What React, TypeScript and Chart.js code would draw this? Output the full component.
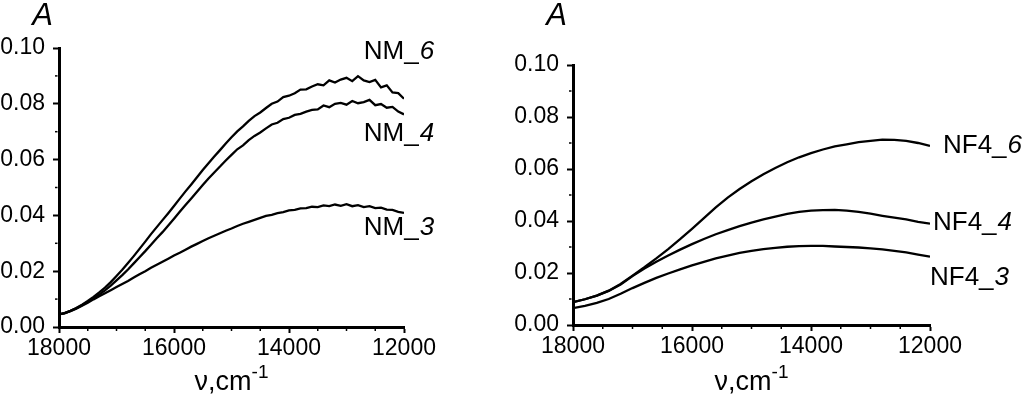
import React, { useEffect, useRef } from "react";
import { Chart, registerables } from "chart.js";

Chart.register(...registerables);
Chart.defaults.font.family = '"Liberation Sans", Arial, sans-serif';

// ---------- Left panel (NM) ----------
const nuLeft = [
  18000, 17900, 17800, 17700, 17600, 17500, 17400, 17300, 17200, 17100,
  17000, 16900, 16800, 16700, 16600, 16500, 16400, 16300, 16200, 16100,
  16000, 15900, 15800, 15700, 15600, 15500, 15400, 15300, 15200, 15100,
  15000, 14900, 14800, 14700, 14600, 14500, 14400, 14300, 14200, 14100,
  14000, 13900, 13800, 13700, 13600, 13500, 13400, 13300, 13200, 13100,
  13000, 12900, 12800, 12700, 12600, 12500, 12400, 12300, 12200, 12100,
  12000,
];
const nm6 = [
  0.0045, 0.0050, 0.0058, 0.0068, 0.0080, 0.0093, 0.0108, 0.0124, 0.0141, 0.0161,
  0.0183, 0.0205, 0.0229, 0.0254, 0.0280, 0.0306, 0.0333, 0.0358, 0.0383, 0.0408,
  0.0434, 0.0460, 0.0486, 0.0511, 0.0537, 0.0563, 0.0587, 0.0611, 0.0634, 0.0658,
  0.0680, 0.0701, 0.0719, 0.0739, 0.0756, 0.0769, 0.0785, 0.0800, 0.0808, 0.0824,
  0.0829, 0.0838, 0.0851, 0.0852, 0.0862, 0.0870, 0.0866, 0.0884, 0.0876, 0.0887,
  0.0893, 0.0881, 0.0899, 0.0884, 0.0878, 0.0886, 0.0859, 0.0866, 0.0841, 0.0838,
  0.0818,
];
const nm4 = [
  0.0045, 0.0050, 0.0058, 0.0067, 0.0078, 0.0090, 0.0103, 0.0116, 0.0131, 0.0148,
  0.0167, 0.0186, 0.0206, 0.0228, 0.0250, 0.0272, 0.0295, 0.0318, 0.0340, 0.0364,
  0.0388, 0.0413, 0.0437, 0.0461, 0.0485, 0.0509, 0.0532, 0.0554, 0.0575, 0.0597,
  0.0617, 0.0637, 0.0651, 0.0670, 0.0685, 0.0697, 0.0712, 0.0726, 0.0732, 0.0745,
  0.0750, 0.0760, 0.0764, 0.0772, 0.0778, 0.0780, 0.0794, 0.0788, 0.0800, 0.0803,
  0.0797, 0.0810, 0.0802, 0.0806, 0.0814, 0.0795, 0.0799, 0.0786, 0.0789, 0.0772,
  0.0762,
];
const nm3 = [
  0.0045, 0.0050, 0.0057, 0.0066, 0.0076, 0.0087, 0.0099, 0.0110, 0.0121, 0.0132,
  0.0143, 0.0154, 0.0165, 0.0177, 0.0189, 0.0200, 0.0212, 0.0223, 0.0234, 0.0245,
  0.0256, 0.0266, 0.0277, 0.0288, 0.0298, 0.0308, 0.0318, 0.0327, 0.0336, 0.0345,
  0.0353, 0.0362, 0.0370, 0.0377, 0.0384, 0.0391, 0.0398, 0.0402, 0.0408, 0.0412,
  0.0418, 0.0420, 0.0425, 0.0426, 0.0431, 0.0430, 0.0436, 0.0433, 0.0439, 0.0434,
  0.0440, 0.0433, 0.0437, 0.0430, 0.0433, 0.0426, 0.0428, 0.0421, 0.0420, 0.0413,
  0.0409,
];

// ---------- Right panel (NF4) ----------
const nuRight = [
  18000, 17800, 17600, 17400, 17200, 17000, 16800, 16600, 16400, 16200,
  16000, 15800, 15600, 15400, 15200, 15000, 14800, 14600, 14400, 14200,
  14000, 13800, 13600, 13400, 13200, 13000, 12800, 12600, 12400, 12200,
  12000,
];
const nf46 = [
  0.0088, 0.0099, 0.0113, 0.0132, 0.0158, 0.0190, 0.0222, 0.0256, 0.0292, 0.0330,
  0.0370, 0.0411, 0.0452, 0.0490, 0.0523, 0.0553, 0.0580, 0.0604, 0.0626, 0.0645,
  0.0661, 0.0675, 0.0687, 0.0695, 0.0703, 0.0708, 0.0713, 0.0712, 0.0708, 0.0700,
  0.0689,
];
const nf44 = [
  0.0088, 0.0099, 0.0113, 0.0131, 0.0156, 0.0188, 0.0217, 0.0243, 0.0267, 0.0290,
  0.0311, 0.0331, 0.0349, 0.0365, 0.0380, 0.0394, 0.0406, 0.0417, 0.0427, 0.0435,
  0.0440, 0.0442, 0.0443, 0.0440, 0.0435, 0.0428, 0.0420, 0.0413, 0.0406, 0.0397,
  0.0390,
];
const nf43 = [
  0.0065, 0.0074, 0.0085, 0.0100, 0.0120, 0.0142, 0.0162, 0.0181, 0.0198, 0.0214,
  0.0229, 0.0243, 0.0256, 0.0267, 0.0277, 0.0285, 0.0292, 0.0297, 0.0301, 0.0303,
  0.0304, 0.0304, 0.0302, 0.0300, 0.0298, 0.0295, 0.0291, 0.0285, 0.0279, 0.0271,
  0.0263,
];

// ---------- Axes ----------
const xMin = 12000;
const xMax = 18000;
const xStep = 2000;
const yMin = 0;
const yMax = 0.1;
const yStep = 0.02;
const yMinorTicks = [0.01, 0.03, 0.05, 0.07, 0.09];
const xMinorTicks = [17500, 17000, 16500, 15500, 15000, 14500, 13500, 13000, 12500];
const yTitle = "A";
const xTitle = "ν,cm";
const xTitleSup = "-1";

type Lab = { name: string; idx: string; nu: number; a: number };

const leftLabels: Lab[] = [
  { name: "NM_", idx: "6", nu: 12700, a: 0.0986 },
  { name: "NM_", idx: "4", nu: 12700, a: 0.0692 },
  { name: "NM_", idx: "3", nu: 12700, a: 0.0355 },
];
const rightLabels: Lab[] = [
  { name: "NF4_", idx: "6", nu: 11782, a: 0.0688 },
  { name: "NF4_", idx: "4", nu: 11950, a: 0.0392 },
  { name: "NF4_", idx: "3", nu: 12000, a: 0.0181 },
];

const FONT = '"Liberation Sans", Arial, sans-serif';

type PanelProps = {
  left: number;
  width: number;
  nu: number[];
  series: number[][];
  labels: Lab[];
  top: number;
  right: number;
  yw: number;
  xh: number;
};

function Panel({ left, width, nu, series, labels, top, right, yw, xh }: PanelProps) {
  const ref = useRef<HTMLCanvasElement>(null);
  useEffect(() => {
    const annot = {
      id: "annot",
      afterDraw(chart: any) {
        const { ctx, chartArea: ca, scales } = chart;
        const xs = scales.x;
        const ys = scales.y;
        ctx.save();
        ctx.strokeStyle = "#000";
        ctx.lineWidth = 1.5;
        yMinorTicks.forEach((v) => {
          const py = ys.getPixelForValue(v);
          ctx.beginPath();
          ctx.moveTo(ca.left - 1.5, py);
          ctx.lineTo(ca.left - 4, py);
          ctx.stroke();
        });
        xMinorTicks.forEach((v) => {
          const px = xs.getPixelForValue(v);
          ctx.beginPath();
          ctx.moveTo(px, ca.bottom + 1.5);
          ctx.lineTo(px, ca.bottom + 4);
          ctx.stroke();
        });
        ctx.fillStyle = "#000";
        ctx.font = `italic 31px ${FONT}`;
        ctx.textAlign = "right";
        ctx.textBaseline = "alphabetic";
        ctx.fillText(yTitle, ca.left - 6, 25);
        ctx.textAlign = "left";
        ctx.textBaseline = "middle";
        labels.forEach((l) => {
          const px = xs.getPixelForValue(l.nu);
          const py = ys.getPixelForValue(l.a);
          ctx.font = `26px ${FONT}`;
          ctx.fillText(l.name, px, py);
          const w = ctx.measureText(l.name).width;
          ctx.font = `italic 26px ${FONT}`;
          ctx.fillText(l.idx, px + w + 1, py);
        });
        ctx.textBaseline = "alphabetic";
        ctx.font = `27px ${FONT}`;
        const w1 = ctx.measureText(xTitle).width;
        ctx.font = `19px ${FONT}`;
        const w2 = ctx.measureText(xTitleSup).width;
        const cx = (ca.left + ca.right) / 2;
        const x0 = cx - (w1 + w2) / 2;
        const by = chart.height - 7;
        ctx.textAlign = "left";
        ctx.font = `27px ${FONT}`;
        ctx.fillText(xTitle, x0, by);
        ctx.font = `19px ${FONT}`;
        ctx.fillText(xTitleSup, x0 + w1, by - 12);
        ctx.restore();
      },
    };

    const chart = new Chart(ref.current as HTMLCanvasElement, {
      type: "line",
      data: {
        datasets: series.map((vals) => ({
          data: nu.map((x, i) => ({ x, y: vals[i] })),
          borderColor: "#000",
          borderWidth: 2.3,
          pointRadius: 0,
          tension: 0,
          fill: false,
        })),
      },
      options: {
        animation: false,
        responsive: false,
        devicePixelRatio: 1,
        layout: { padding: { top, right, left: 0, bottom: 0 } },
        plugins: { legend: { display: false }, tooltip: { enabled: false } },
        scales: {
          x: {
            type: "linear",
            min: xMin,
            max: xMax,
            reverse: true,
            afterFit: (s: any) => {
              s.height = xh;
            },
            ticks: {
              stepSize: xStep,
              padding: 2,
              color: "#000",
              font: { size: 23 },
              maxRotation: 0,
              autoSkip: false,
              callback: (v: any) => String(v),
            },
            grid: { drawOnChartArea: false, drawTicks: true, tickLength: 6, tickWidth: 2, tickColor: "#000" },
            border: { display: true, color: "#000", width: 3 },
          },
          y: {
            type: "linear",
            min: yMin,
            max: yMax,
            afterFit: (s: any) => {
              s.width = yw;
            },
            ticks: {
              stepSize: yStep,
              padding: 8,
              color: "#000",
              font: { size: 23 },
              callback: (v: any) => Number(v).toFixed(2),
            },
            grid: { drawOnChartArea: false, drawTicks: true, tickLength: 6, tickWidth: 2, tickColor: "#000" },
            border: { display: true, color: "#000", width: 3 },
          },
        },
      },
      plugins: [annot],
    } as any);
    return () => chart.destroy();
  }, []);
  return (
    <canvas
      ref={ref}
      width={width}
      height={397}
      style={{ position: "absolute", left, top: 0, width, height: 397, display: "block" }}
    />
  );
}

export default function App() {
  return (
    <div style={{ position: "absolute", left: 0, top: 0, width: 1024, height: 397, background: "#fff", overflow: "hidden" }}>
      <Panel left={0} width={512} nu={nuLeft} series={[nm6, nm4, nm3]} labels={leftLabels} top={48} right={108} yw={59} xh={70} />
      <Panel left={512} width={512} nu={nuRight} series={[nf46, nf44, nf43]} labels={rightLabels} top={65} right={94} yw={61} xh={72} />
    </div>
  );
}
